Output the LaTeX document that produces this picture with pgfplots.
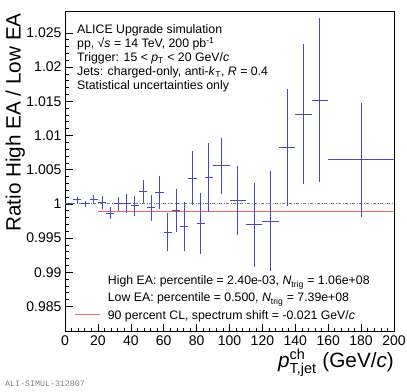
\documentclass[border=0pt]{standalone}
\usepackage{fontspec}
\setmainfont{Liberation Sans}
\setmonofont{Liberation Mono}
\usepackage{amsmath}
\usepackage{pgfplots}
\pgfplotsset{compat=1.18}
\usepackage{pgfplotstable}
\definecolor{barblue}{HTML}{4848C4}
\definecolor{cllred}{HTML}{F06464}

% x, y, half bin width, stat. error
\pgfplotstableread{
x     y        dx   dy
2.5   1.00000  2.5  0.00015
7.5   1.00059  2.5  0.00040
12.5  1.00000  2.5  0.00042
17.5  1.00070  2.5  0.00060
22.5  1.00020  2.5  0.00090
27.5  0.99864  2.5  0.00085
32.5  1.00000  2.5  0.00100
37.5  1.00010  2.5  0.00140
42.5  0.99970  2.5  0.00150
47.5  1.00180  2.5  0.00175
52.5  0.99940  2.5  0.00190
57.5  1.00170  2.5  0.00240
62.5  0.99586  2.5  0.00280
67.5  0.99902  2.5  0.00310
72.5  0.99673  2.5  0.00360
77.5  1.00376  2.5  0.00400
82.5  0.99712  2.5  0.00450
87.5  1.00385  2.5  0.00500
95    1.00556  5    0.00410
105   1.00048  5    0.00505
115   0.99693  5    0.00610
125   0.99747  5    0.00727
135   1.00824  5    0.00860
145   1.01313  5    0.01025
155   1.01518  5    0.01195
180   1.00644  20   0.00830
}\ratio

\begin{document}
\begin{tikzpicture}
\useasboundingbox (0,0) rectangle (407pt,391pt);
\begin{axis}[
  at={(65pt,59.3pt)}, anchor=south west,
  width=329pt, height=320pt, scale only axis,
  xmin=0, xmax=200, ymin=0.9813, ymax=1.0281,
  axis line style={line width=0.8pt},
  tick align=inside, tick pos=left,
  major tick length=8pt, minor tick length=4pt,
  tick style={line width=0.6pt, black},
  xtick={0,20,...,200}, minor x tick num=4,
  ytick={0.985,0.99,0.995,1,1.005,1.01,1.015,1.02,1.025},
  yticklabels={0.985,0.99,0.995,1,1.005,1.01,1.015,1.02,1.025},
  minor y tick num=4,
  /pgf/number format/assume math mode=true,
  tick label style={font=\fontsize{14}{14}\selectfont},
]
\addplot[gray, line width=0.9pt, dash pattern=on 3pt off 1.5pt on 1pt off 1.5pt]
  coordinates {(0,1) (200,1)};
\addplot[cllred, line width=1pt] coordinates {(20,0.99887) (200,0.99887)};
\addplot[barblue, draw=none, mark=none,
  error bars/.cd, x dir=both, x explicit, y dir=both, y explicit,
  error mark=none, error bar style={solid, draw=barblue, line width=1pt}]
  table[x=x, y=y, x error=dx, y error=dy] {\ratio};
\end{axis}

% top-left text block
\begin{scope}[every node/.style={anchor=base west, inner sep=0pt, font=\fontsize{12.3}{14}\selectfont}]
\node at (77pt,{391pt-33.5pt}) {ALICE Upgrade simulation};
\node at (77pt,{391pt-47.5pt}) {pp, √\textit{s} = 14 TeV, 200 pb\textsuperscript{-1}};
\node at (77pt,{391pt-61.5pt}) {Trigger: 15 < \textit{p}\textsubscript{T} < 20 GeV/\textit{c}};
\node at (77pt,{391pt-75.5pt}) {Jets: charged-only, anti-\textit{k}\textsubscript{T}, \textit{R} = 0.4};
\node at (77pt,{391pt-89.5pt}) {Statistical uncertainties only};
% legend
\node at (107.7pt,{391pt-285pt}) {High EA: percentile = 2.40e-03, \textit{N}\textsubscript{trig} = 1.06e+08};
\node at (107.7pt,{391pt-302pt}) {Low EA: percentile = 0.500, \textit{N}\textsubscript{trig} = 7.39e+08};
\node at (107.7pt,{391pt-319.5pt}) {90 percent CL, spectrum shift = -0.021 GeV/\textit{c}};
\end{scope}
\draw[cllred, line width=1pt] (75pt,{391pt-315pt}) -- (100pt,{391pt-315pt});

% axis titles
\node[rotate=90, anchor=south east, inner sep=0pt, font=\fontsize{20.7}{22}\selectfont]
  at (25pt,{391pt-13pt}) {Ratio High EA / Low EA};
\node[anchor=north east, inner sep=0pt, font=\fontsize{20.7}{22}\selectfont]
  at (394pt,{391pt-349pt}) {$\textit{p}^{\text{ch}}_{\text{T,jet}}$ (GeV/\textit{c})};

\node[anchor=base west, inner sep=0pt, text=gray, font=\ttfamily\fontsize{8.3}{9}\selectfont]
  at (5pt,{391pt-386pt}) {ALI-SIMUL-312807};
\end{tikzpicture}
\end{document}
